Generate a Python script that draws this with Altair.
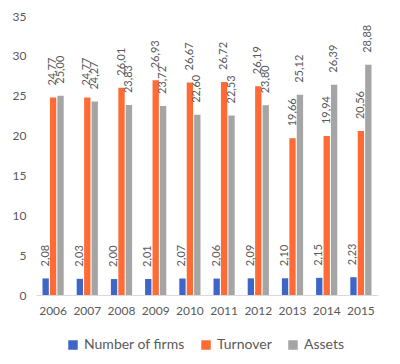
import altair as alt
import pandas as pd

years = ["2006", "2007", "2008", "2009", "2010", "2011", "2012", "2013", "2014", "2015"]
firms = [2.08, 2.03, 2.00, 2.01, 2.07, 2.06, 2.09, 2.10, 2.15, 2.23]
turnover = [24.77, 24.77, 26.01, 26.93, 26.67, 26.72, 26.19, 19.66, 19.94, 20.56]
assets = [25.00, 24.27, 23.83, 23.72, 22.60, 22.53, 23.80, 25.12, 26.39, 28.88]
series = ["Number of firms", "Turnover", "Assets"]
colors = ["#3E66C8", "#FF6A35", "#A5A5A5"]

rows = []
for i, y in enumerate(years):
    for s, vals in zip(series, [firms, turnover, assets]):
        rows.append({"year": y, "series": s, "value": vals[i]})
df = pd.DataFrame(rows)

FONT = "Lato"
TXT = "#595959"

base = alt.Chart(df).encode(
    x=alt.X("year:N", sort=years, title=None,
            scale=alt.Scale(paddingInner=0.38, paddingOuter=0.19),
            axis=alt.Axis(labelAngle=0, ticks=False, domainColor="#D9D9D9",
                          labelColor=TXT, labelFontSize=12, labelFont=FONT, labelPadding=10)),
    xOffset=alt.XOffset("series:N", sort=series, scale=alt.Scale(paddingInner=0.15)),
    y=alt.Y("value:Q", title=None,
            scale=alt.Scale(domain=[0, 35]),
            axis=alt.Axis(values=[0, 5, 10, 15, 20, 25, 30, 35], grid=False, domain=False,
                          ticks=False, labelColor=TXT, labelFontSize=12, labelFont=FONT,
                          labelPadding=10)),
)

bars = base.mark_bar().encode(
    color=alt.Color("series:N", sort=series,
                    scale=alt.Scale(domain=series, range=colors),
                    legend=alt.Legend(title=None, orient="none", direction="horizontal",
                                      legendX=30, legendY=322, symbolType="square",
                                      symbolSize=90, symbolStrokeWidth=0,
                                      labelFontSize=14, labelFont=FONT, labelColor=TXT,
                                      columnPadding=14, symbolOpacity=1)),
)

labels = base.transform_calculate(
    lbl="replace(format(datum.value, '.2f'), '.', ',')"
).mark_text(angle=270, align="left", baseline="middle", dx=12,
            fontSize=11, font=FONT, color=TXT).encode(text="lbl:N")

chart = alt.layer(bars, labels).properties(
    width=342, height=279,
    padding={"left": 4, "top": 2, "right": 5, "bottom": 5},
).configure_view(stroke=None)

chart.save("out.html", embed_options={"renderer": "svg", "actions": False})
